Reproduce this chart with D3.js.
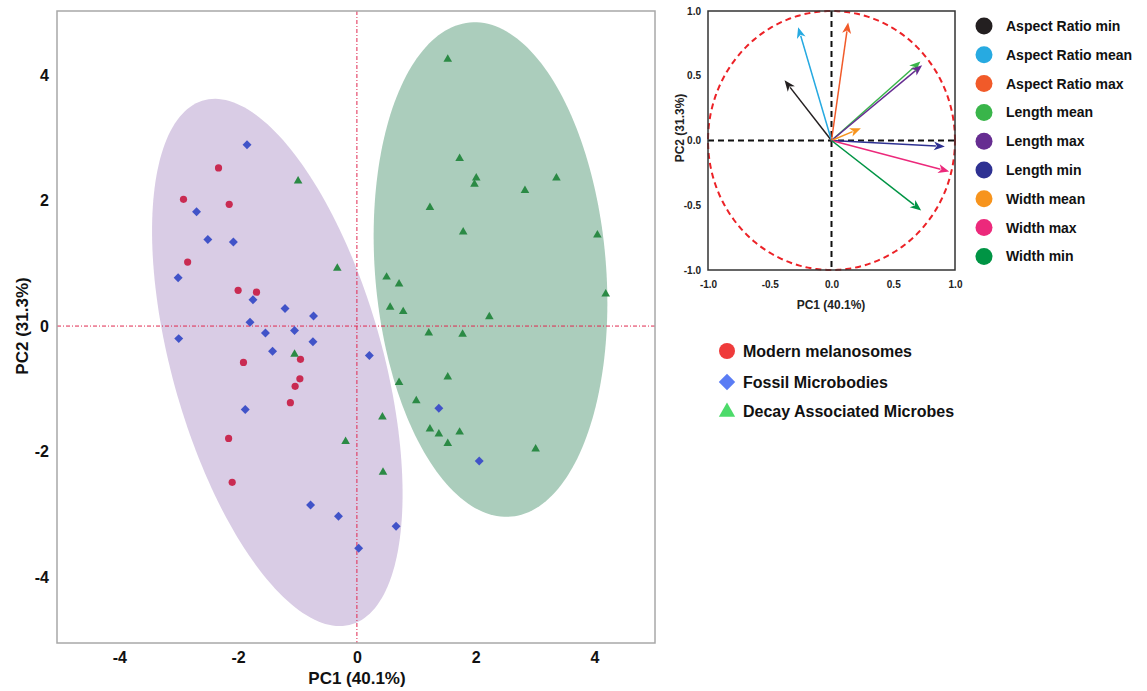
<!DOCTYPE html>
<html><head><meta charset="utf-8">
<script src="https://cdn.jsdelivr.net/npm/d3@7"></script>
<style>body{margin:0;background:#fff;}svg{display:block;font-family:"Liberation Sans",Arial,sans-serif;}</style>
</head><body>
<svg id="c" width="1147" height="691"></svg>
<script>
// ---------- DATA ----------
const modernX = [-2.33,-2.92,-2.15,-2.85,-2.00,-1.69,-0.95,-1.91,-0.96,-1.04,-1.12,-2.16,-2.10];
const modernY = [2.52,2.02,1.94,1.02,0.57,0.54,-0.53,-0.58,-0.84,-0.96,-1.22,-1.79,-2.49];
const fossilX = [-1.85,-2.70,-2.51,-2.08,-3.01,-1.75,-1.21,-0.73,-1.80,-1.54,-1.05,-3.00,-0.74,-1.42,0.21,-1.88,-0.78,-0.31,0.66,0.03,1.38,2.06];
const fossilY = [2.89,1.82,1.38,1.34,0.77,0.42,0.28,0.16,0.06,-0.11,-0.07,-0.20,-0.25,-0.40,-0.47,-1.33,-2.85,-3.03,-3.19,-3.54,-1.31,-2.15];
const decayX = [-0.99,-0.33,-1.05,-0.19,0.44,0.43,0.71,1.00,1.21,1.78,1.53,1.23,1.38,1.73,1.53,3.01,1.53,1.73,2.01,1.98,3.36,2.83,1.23,1.79,4.05,0.50,0.71,0.56,0.78,2.23,4.19];
const decayY = [2.31,0.92,-0.45,-1.84,-2.33,-1.45,-0.90,-1.19,-0.11,-0.13,-0.81,-1.64,-1.72,-1.69,-1.87,-1.96,4.25,2.67,2.36,2.26,2.36,2.16,1.89,1.50,1.45,0.78,0.67,0.30,0.23,0.15,0.51];
// confidence ellipses: centre, semi-axes, angle (deg, data space)
const ellipseNames = ["Modern+Fossil","Decay"];
const ellipseCX = [-1.34, 2.25];
const ellipseCY = [-0.58, 0.90];
const ellipseA = [4.357, 3.952];
const ellipseB = [1.763, 1.944];
const ellipseAngle = [-73.1, -84.9];
const mainTicks = [-4,-2,0,2,4];
const groupNames = ["Modern melanosomes","Fossil Microbodies","Decay Associated Microbes"];
// loadings
const varNames = ["Aspect Ratio min","Aspect Ratio mean","Aspect Ratio max","Length mean","Length max","Length min","Width mean","Width max","Width min"];
const loadX = [-0.38,-0.27,0.135,0.72,0.734,0.918,0.238,0.953,0.726];
const loadY = [0.465,0.875,0.911,0.61,0.582,-0.046,0.095,-0.239,-0.54];
const varColors = ["#231f20","#27aae1","#f15a29","#39b54a","#662d91","#2e3192","#f7941d","#ec297b","#009444"];
const bpTicks = [-1.0,-0.5,0.0,0.5,1.0];

// ---------- MAIN PCA ----------
const svg = d3.select("#c");
const x = d3.scaleLinear().domain([-5.05,5.02]).range([57,655]);
const y = d3.scaleLinear().domain([-5.05,5.02]).range([643,11]);

function ellipsePath(i){
  const th = ellipseAngle[i]*Math.PI/180, pts=[];
  for(let k=0;k<=200;k++){
    const t = k/200*2*Math.PI;
    const u = ellipseA[i]*Math.cos(t), v = ellipseB[i]*Math.sin(t);
    pts.push([x(ellipseCX[i]+u*Math.cos(th)-v*Math.sin(th)), y(ellipseCY[i]+u*Math.sin(th)+v*Math.cos(th))]);
  }
  return d3.line()(pts)+"Z";
}
const ellFill = ["#d9cce5","#abcdbc"];
const ellG = svg.append("g");
ellipseNames.forEach((n,i)=>ellG.append("path").attr("d",ellipsePath(i)).attr("fill",ellFill[i]));

// zero lines
svg.append("line").attr("x1",x(0)).attr("x2",x(0)).attr("y1",y.range()[1]).attr("y2",y.range()[0])
  .attr("stroke","#e0284f").attr("stroke-width",1).attr("stroke-dasharray","4,2,1,2");
svg.append("line").attr("y1",y(0)).attr("y2",y(0)).attr("x1",x.range()[0]).attr("x2",x.range()[1])
  .attr("stroke","#e0284f").attr("stroke-width",1).attr("stroke-dasharray","4,2,1,2");

// frame
svg.append("rect").attr("x",57).attr("y",11).attr("width",598).attr("height",632)
  .attr("fill","none").attr("stroke","#a8a8a8").attr("stroke-width",1.5);

// axes (labels only)
const hy = d => String(d);
const xAx = d3.axisBottom(x).tickValues(mainTicks).tickSize(0).tickPadding(9).tickFormat(hy);
const gx = svg.append("g").attr("transform","translate(0,643)").call(xAx);
gx.select(".domain").remove();
gx.selectAll("text").attr("font-size",16).attr("font-weight","bold").attr("fill","#111").attr("font-family","Liberation Sans, Arial");
const yAx = d3.axisLeft(y).tickValues(mainTicks).tickSize(0).tickPadding(8).tickFormat(hy);
const gy = svg.append("g").attr("transform","translate(57,0)").call(yAx);
gy.select(".domain").remove();
gy.selectAll("text").attr("font-size",16).attr("font-weight","bold").attr("fill","#111").attr("font-family","Liberation Sans, Arial");

svg.append("text").attr("x",357).attr("y",684).attr("text-anchor","middle").attr("font-size",17).attr("font-weight","bold").attr("fill","#111").text("PC1 (40.1%)");
svg.append("text").attr("transform","translate(28,326) rotate(-90)").attr("text-anchor","middle").attr("font-size",17).attr("font-weight","bold").attr("fill","#111").text("PC2 (31.3%)");

// points
const ptG = svg.append("g");
modernX.forEach((v,i)=>ptG.append("circle").attr("cx",x(v)).attr("cy",y(modernY[i])).attr("r",3.6).attr("fill","#c92b52"));
const diamond = d3.symbol().type(d3.symbolSquare).size(40);
fossilX.forEach((v,i)=>ptG.append("path").attr("d",diamond()).attr("transform",`translate(${x(v)},${y(fossilY[i])}) rotate(45)`).attr("fill","#4153c8"));
const tri = d3.symbol().type(d3.symbolTriangle).size(32);
decayX.forEach((v,i)=>ptG.append("path").attr("d",tri()).attr("transform",`translate(${x(v)},${y(decayY[i])})`).attr("fill","#2b8a45"));

// group legend
const lgColors = ["#ef3b3b","#5a7cf4","#4cdb6a"];
const lgY = [351,382,411];
const lg = svg.append("g");
lg.append("circle").attr("cx",727).attr("cy",lgY[0]).attr("r",8).attr("fill",lgColors[0]);
lg.append("path").attr("d",d3.symbol().type(d3.symbolSquare).size(135)()).attr("transform",`translate(727,${lgY[1]}) rotate(45)`).attr("fill",lgColors[1]);
lg.append("path").attr("d",d3.symbol().type(d3.symbolTriangle).size(115)()).attr("transform",`translate(727,${lgY[2]+1})`).attr("fill",lgColors[2]);
groupNames.forEach((n,i)=>lg.append("text").attr("x",743).attr("y",lgY[i]+6).attr("font-size",16).attr("font-weight","bold").attr("fill","#111").text(n));

// ---------- BIPLOT ----------
const bx = d3.scaleLinear().domain([-1,1]).range([708,955]);
const by = d3.scaleLinear().domain([-1,1]).range([270,11]);
const bp = svg.append("g");
const circPts = d3.range(0,361,1).map(a=>[bx(Math.cos(a*Math.PI/180)), by(Math.sin(a*Math.PI/180))]);
bp.append("path").attr("d",d3.line()(circPts)+"Z").attr("fill","none").attr("stroke","#ec2227").attr("stroke-width",2).attr("stroke-dasharray","6,4");
bp.append("line").attr("x1",bx(-1)).attr("x2",bx(1)).attr("y1",by(0)).attr("y2",by(0)).attr("stroke","#111").attr("stroke-width",2).attr("stroke-dasharray","6,4");
bp.append("line").attr("x1",bx(0)).attr("x2",bx(0)).attr("y1",by(1)).attr("y2",by(-1)).attr("stroke","#111").attr("stroke-width",2).attr("stroke-dasharray","6,4");
bp.append("rect").attr("x",708).attr("y",11).attr("width",247).attr("height",259).attr("fill","none").attr("stroke","#333").attr("stroke-width",1.5);

// arrows
varNames.forEach((n,i)=>{
  const x0=bx(0), y0=by(0), x1=bx(loadX[i]), y1=by(loadY[i]);
  const dx=x1-x0, dy=y1-y0, L=Math.hypot(dx,dy), ux=dx/L, uy=dy/L;
  const hl=11, hw=4.5;
  const bxp=x1-ux*hl, byp=y1-uy*hl;
  bp.append("line").attr("x1",x0).attr("y1",y0).attr("x2",bxp+ux*2).attr("y2",byp+uy*2).attr("stroke",varColors[i]).attr("stroke-width",1.5);
  bp.append("path").attr("d",`M${x1},${y1}L${bxp-uy*hw},${byp+ux*hw}L${bxp+ux*3},${byp+uy*3}L${bxp+uy*hw},${byp-ux*hw}Z`).attr("fill",varColors[i]);
});

// biplot axes labels
const f1 = d => d.toFixed(1);
const bxAx = d3.axisBottom(bx).tickValues(bpTicks).tickSize(0).tickPadding(11).tickFormat(f1);
const gbx = bp.append("g").attr("transform","translate(0,270)").call(bxAx);
gbx.select(".domain").remove();
gbx.selectAll("text").attr("font-size",10).attr("font-weight","bold").attr("fill","#222").attr("font-family","Liberation Sans, Arial");
const byAx = d3.axisLeft(by).tickValues(bpTicks).tickSize(0).tickPadding(7).tickFormat(f1);
const gby = bp.append("g").attr("transform","translate(708,0)").call(byAx);
gby.select(".domain").remove();
gby.selectAll("text").attr("font-size",10).attr("font-weight","bold").attr("fill","#222").attr("font-family","Liberation Sans, Arial");
bp.append("text").attr("x",831).attr("y",309).attr("text-anchor","middle").attr("font-size",12).attr("font-weight","bold").attr("fill","#222").text("PC1 (40.1%)");
bp.append("text").attr("transform","translate(684,128) rotate(-90)").attr("text-anchor","middle").attr("font-size",12).attr("font-weight","bold").attr("fill","#222").text("PC2 (31.3%)");

// variable legend
const vl = svg.append("g");
varNames.forEach((n,i)=>{
  const yy = 26 + i*28.8;
  vl.append("circle").attr("cx",984).attr("cy",yy).attr("r",8.5).attr("fill",varColors[i]);
  vl.append("text").attr("x",1006).attr("y",yy+5).attr("font-size",14).attr("font-weight","bold").attr("fill","#111").text(n);
});
</script>
</body></html>
